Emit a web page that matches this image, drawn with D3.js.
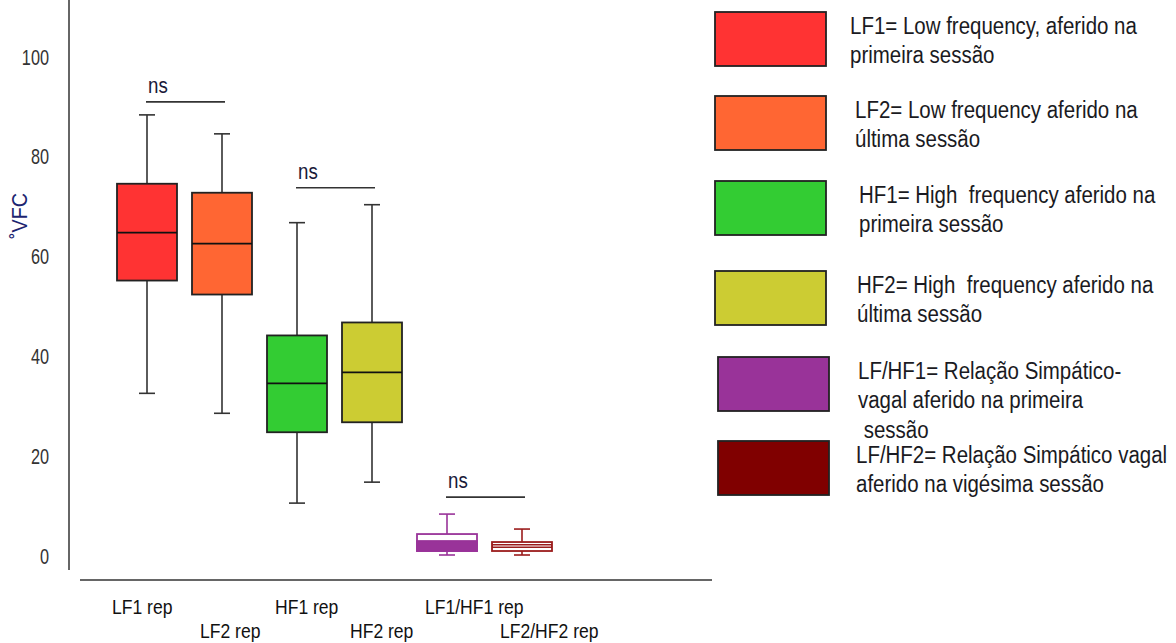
<!DOCTYPE html>
<html lang="pt">
<head>
  <meta charset="UTF-8" />
  <title>VFC boxplot</title>
  <script src="https://d3js.org/d3.v7.min.js"></script>
  <style>
    body { margin: 0; background: #fff; }
    svg { display: block; font-family: "Liberation Sans", Arial, sans-serif; }
  </style>
</head>
<body>
  <svg id="chart" width="1176" height="643"></svg>

  <script>
    // box values
    const categories = ["LF1 rep", "LF2 rep", "HF1 rep", "HF2 rep", "LF1/HF1 rep", "LF2/HF2 rep"];
    const whiskerLow = [32.6, 28.6, 10.6, 14.8, 0.2, 0.2];
    const q1 = [55.2, 52.4, 24.8, 26.8, 1.0, 1.0];
    const median = [64.8, 62.6, 34.6, 36.8, 3.0, 2.0];
    const q3 = [74.6, 72.8, 44.2, 46.8, 4.4, 2.8];
    const whiskerHigh = [88.4, 84.6, 66.8, 70.4, 8.4, 5.4];
    const boxColors = ["#ff3333", "#ff6633", "#33cc33", "#cccc33", "#993399", "#800000"];
    const boxStyle = ["solid", "solid", "solid", "solid", "half", "hollow"];

    const yTicks = [0, 20, 40, 60, 80, 100];

    // significance brackets (pairs of category indexes, height in axis units)
    const comparisons = [
      { pair: [0, 1], at: 91, label: "ns" },
      { pair: [2, 3], at: 73.8, label: "ns" },
      { pair: [4, 5], at: 11.8, label: "ns" }
    ];

    const legendItems = [
      { color: "#ff3333", lines: ["LF1= Low frequency, aferido na", "primeira sessão"] },
      { color: "#ff6633", lines: ["LF2= Low frequency aferido na", "última sessão"] },
      { color: "#33cc33", lines: ["HF1= High  frequency aferido na", "primeira sessão"] },
      { color: "#cccc33", lines: ["HF2= High  frequency aferido na", "última sessão"] },
      { color: "#993399", lines: ["LF/HF1= Relação Simpático-", "vagal aferido na primeira", " sessão"] },
      { color: "#800000", lines: ["LF/HF2= Relação Simpático vagal", "aferido na vigésima sessão"] }
    ];

    const svg = d3.select("#chart");

    const x = d3.scaleBand()
      .domain(categories)
      .range([102, 567])
      .padding(0.2);

    const y = d3.scaleLinear()
      .domain([0, 100])
      .range([556, 57]);

    const cx = c => x(c) + x.bandwidth() / 2;

    // axes (plain lines, no ticks)
    svg.append("line")
      .attr("x1", 69).attr("x2", 69)
      .attr("y1", 0).attr("y2", 570)
      .attr("stroke", "#333").attr("stroke-width", 1.5);

    svg.append("line")
      .attr("x1", 80).attr("x2", 712)
      .attr("y1", 580).attr("y2", 580)
      .attr("stroke", "#333").attr("stroke-width", 1.5);

    const yAxis = svg.append("g")
      .attr("transform", "translate(49,0)")
      .call(d3.axisLeft(y).tickValues(yTicks).tickSize(0).tickPadding(0));
    yAxis.select(".domain").remove();
    yAxis.selectAll("text")
      .attr("x", 0)
      .attr("font-size", "22px")
      .attr("font-family", "Liberation Sans, Arial, sans-serif")
      .attr("transform", "scale(0.74,1)")
      .attr("fill", "#333");

    svg.append("text")
      .attr("transform", "translate(27,216) rotate(-90) scale(0.9,1)")
      .attr("text-anchor", "middle")
      .attr("font-size", "22px")
      .attr("fill", "#1c2470")
      .text("˚VFC");

    // category labels, alternating rows (slightly condensed)
    svg.selectAll(".cat-label")
      .data(categories)
      .enter()
      .append("g")
      .attr("class", "cat-label")
      .attr("transform", (d, i) => `translate(${cx(d) - (i === 0 ? 35 : 22)},${i % 2 === 0 ? 614 : 638})`)
      .append("text")
      .attr("transform", "scale(0.9,1)")
      .attr("font-size", "19.5px")
      .attr("fill", "#111")
      .text(d => d);

    const rows = categories.map((c, i) => ({
      cat: c, lo: whiskerLow[i], q1: q1[i], med: median[i], q3: q3[i], hi: whiskerHigh[i],
      color: boxColors[i], style: boxStyle[i]
    }));

    const bw = x.bandwidth();
    const capW = 16;
    const lineColor = d => d.style === "solid" ? "#333" : (d.style === "half" ? "#993399" : "#9b1c1c");

    const boxes = svg.selectAll(".box")
      .data(rows)
      .enter()
      .append("g")
      .attr("class", "box");

    // whiskers
    boxes.append("line")
      .attr("x1", d => cx(d.cat)).attr("x2", d => cx(d.cat))
      .attr("y1", d => y(d.hi)).attr("y2", d => y(d.lo))
      .attr("stroke", lineColor).attr("stroke-width", 1.6);

    ["hi", "lo"].forEach(k => {
      boxes.append("line")
        .attr("x1", d => cx(d.cat) - capW / 2).attr("x2", d => cx(d.cat) + capW / 2)
        .attr("y1", d => y(d[k])).attr("y2", d => y(d[k]))
        .attr("stroke", lineColor).attr("stroke-width", 1.6);
    });

    // box body
    boxes.append("rect")
      .attr("x", d => x(d.cat))
      .attr("y", d => y(d.q3))
      .attr("width", bw)
      .attr("height", d => y(d.q1) - y(d.q3))
      .attr("fill", d => d.style === "solid" ? d.color : "#fff")
      .attr("stroke", d => d.style === "solid" ? "#222" : lineColor(d))
      .attr("stroke-width", 1.8);

    // lower half filled for the purple one
    boxes.filter(d => d.style === "half")
      .append("rect")
      .attr("x", d => x(d.cat))
      .attr("y", d => y(d.med))
      .attr("width", bw)
      .attr("height", d => y(d.q1) - y(d.med))
      .attr("fill", d => d.color)
      .attr("stroke", d => d.color)
      .attr("stroke-width", 1.8);

    // medians
    boxes.filter(d => d.style !== "half")
      .append("line")
      .attr("x1", d => x(d.cat)).attr("x2", d => x(d.cat) + bw)
      .attr("y1", d => y(d.med)).attr("y2", d => y(d.med))
      .attr("stroke", d => d.style === "solid" ? "#111" : lineColor(d))
      .attr("stroke-width", d => d.style === "solid" ? 1.8 : 4);

    boxes.filter(d => d.style === "hollow")
      .append("line")
      .attr("x1", d => x(d.cat) + 1).attr("x2", d => x(d.cat) + bw - 1)
      .attr("y1", d => y(d.med)).attr("y2", d => y(d.med))
      .attr("stroke", "#fff").attr("stroke-width", 1.2);

    // ns brackets
    const comp = svg.selectAll(".comp")
      .data(comparisons)
      .enter()
      .append("g")
      .attr("class", "comp");

    comp.append("line")
      .attr("x1", d => cx(categories[d.pair[0]]) - 1)
      .attr("x2", d => cx(categories[d.pair[1]]) + 3)
      .attr("y1", d => y(d.at)).attr("y2", d => y(d.at))
      .attr("stroke", "#333").attr("stroke-width", 1.6);

    comp.append("g")
      .attr("transform", d => `translate(${cx(categories[d.pair[0]]) + 1},${y(d.at) - 9})`)
      .append("text")
      .attr("transform", "scale(0.85,1)")
      .attr("font-size", "22px")
      .attr("fill", "#1a1a3a")
      .text(d => d.label);

    // legend
    const legendTop = [12, 96, 181, 271, 357, 441];
    const legendTextX = [135, 140, 144, 142, 140, 138];
    const legend = svg.selectAll(".legend")
      .data(legendItems)
      .enter()
      .append("g")
      .attr("class", "legend")
      .attr("transform", (d, i) => `translate(${i < 4 ? 715 : 718},${legendTop[i]})`);

    legend.append("rect")
      .attr("width", 111).attr("height", 54)
      .attr("fill", d => d.color)
      .attr("stroke", "#222").attr("stroke-width", 1.8);

    legend.each(function (d, i) {
      const t = d3.select(this).append("g")
        .attr("transform", `translate(${legendTextX[i]},0) scale(0.89,1)`)
        .append("text")
        .attr("font-size", "23px")
        .attr("fill", "#1a1a22");
      t.selectAll("tspan")
        .data(d.lines)
        .enter()
        .append("tspan")
        .attr("x", 0)
        .attr("y", (l, j) => 22 + j * 29.5)
        .attr("xml:space", "preserve")
        .text(l => l);
    });
  </script>
</body>
</html>
